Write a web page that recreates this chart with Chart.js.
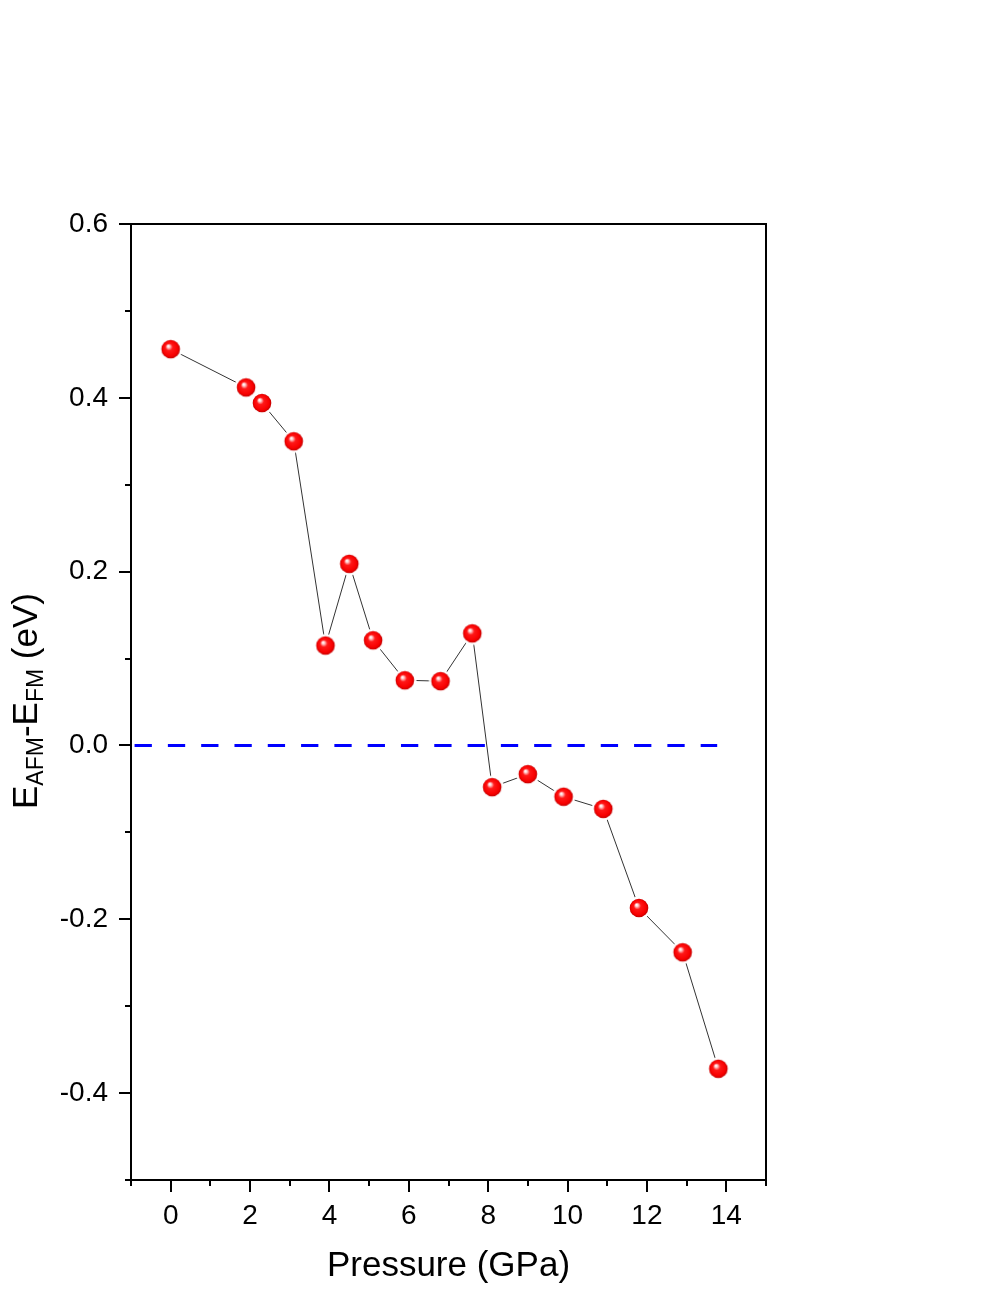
<!DOCTYPE html>
<html><head><meta charset="utf-8">
<script src="https://cdn.jsdelivr.net/npm/chart.js@4/dist/chart.umd.min.js"></script>
<style>html,body{margin:0;padding:0;background:#fff}#wrap{width:997px;height:1290px;position:relative}</style>
</head><body><div id="wrap"><canvas id="c" width="997" height="1290"></canvas></div>
<script>
const pressure = [0, 1.9, 2.3, 3.1, 3.9, 4.5, 5.1, 5.9, 6.8, 7.6, 8.1, 9.0, 9.9, 10.9, 11.8, 12.9, 13.8];
const energyDiff = [0.456, 0.412, 0.394, 0.350, 0.115, 0.209, 0.121, 0.075, 0.074, 0.129, -0.048, -0.033, -0.059, -0.073, -0.187, -0.238, -0.372];
const zeroLineX = [-0.91, 13.77];
const zeroLineY = [0, 0];
const xTicks = [0, 2, 4, 6, 8, 10, 12, 14];
const yTicks = [-0.4, -0.2, 0.0, 0.2, 0.4, 0.6];
const xMinorStep = 1;
const yMinorStep = 0.1;
const xTitle = 'Pressure (GPa)';
const yTitleParts = [['E', false], ['AFM', true], ['-', false], ['E', false], ['FM', true], [' (eV)', false]];

const FONT = '"Liberation Sans", Arial, sans-serif';

function makeSphere() {
  const s = 26, c = document.createElement('canvas');
  c.width = s; c.height = s;
  const g = c.getContext('2d');
  const cx = s / 2, cy = s / 2;
  g.fillStyle = '#ffffff';
  g.beginPath(); g.arc(cx, cy, 11.6, 0, Math.PI * 2); g.fill();
  const gr = g.createRadialGradient(cx - 2.5, cy - 3.2, 0.3, cx, cy, 9.4);
  gr.addColorStop(0, '#ffffff');
  gr.addColorStop(0.12, '#ffd0d0');
  gr.addColorStop(0.36, '#ff1818');
  gr.addColorStop(0.8, '#f80000');
  gr.addColorStop(1, '#c00000');
  g.fillStyle = gr;
  g.beginPath(); g.arc(cx, cy, 9.3, 0, Math.PI * 2); g.fill();
  return c;
}
const sphere = makeSphere();

const framePlugin = {
  id: 'frame',
  afterDraw(chart) {
    const { ctx, chartArea: a, scales: { x, y } } = chart;
    ctx.save();
    ctx.strokeStyle = '#000';
    ctx.lineWidth = 2;
    ctx.strokeRect(a.left, a.top, a.right - a.left, a.bottom - a.top);
    ctx.beginPath();
    const isMajor = (v, arr) => arr.some(t => Math.abs(t - v) < 1e-6);
    for (let v = x.min; v <= x.max + 1e-9; v += xMinorStep) {
      const px = Math.round(x.getPixelForValue(v));
      const len = isMajor(v, xTicks) ? 12 : 6;
      ctx.moveTo(px, a.bottom); ctx.lineTo(px, a.bottom + len);
    }
    for (let i = 0; ; i++) {
      const v = y.min + i * yMinorStep;
      if (v > y.max + 1e-9) break;
      const py = Math.round(y.getPixelForValue(v));
      const len = isMajor(v, yTicks) ? 12 : 6;
      ctx.moveTo(a.left, py); ctx.lineTo(a.left - len, py);
    }
    ctx.stroke();

    // x title
    ctx.fillStyle = '#000';
    ctx.font = '35px ' + FONT;
    ctx.textAlign = 'center';
    ctx.textBaseline = 'alphabetic';
    ctx.fillText(xTitle, (a.left + a.right) / 2, 1276);

    // y title with subscripts
    const big = 35, small = 23, sub = 6;
    let total = 0;
    const widths = yTitleParts.map(([t, s]) => {
      ctx.font = (s ? small : big) + 'px ' + FONT;
      const w = ctx.measureText(t).width; total += w; return w;
    });
    ctx.translate(37, 701);
    ctx.rotate(-Math.PI / 2);
    ctx.textAlign = 'left';
    let cx = -total / 2;
    yTitleParts.forEach(([t, s], i) => {
      ctx.font = (s ? small : big) + 'px ' + FONT;
      ctx.fillText(t, cx, s ? sub : 0);
      cx += widths[i];
    });
    ctx.restore();
  }
};

new Chart(document.getElementById('c'), {
  type: 'scatter',
  data: {
    datasets: [
      {
        label: 'E_AFM - E_FM',
        data: pressure.map((p, i) => ({ x: p, y: energyDiff[i] })),
        showLine: true,
        borderColor: '#333333',
        borderWidth: 1,
        pointStyle: sphere,
        pointRadius: 10,
        pointHoverRadius: 10,
        tension: 0
      },
      {
        label: 'zero',
        data: zeroLineX.map((v, i) => ({ x: v, y: zeroLineY[i] })),
        showLine: true,
        borderColor: '#0000ff',
        borderWidth: 3,
        borderDash: [17.3, 16],
        pointRadius: 0,
        pointHoverRadius: 0
      }
    ]
  },
  options: {
    responsive: false,
    animation: false,
    devicePixelRatio: 1,
    layout: { padding: { top: 224, right: 231, left: 0, bottom: 0 } },
    plugins: { legend: { display: false }, tooltip: { enabled: false } },
    scales: {
      x: {
        type: 'linear', min: -1, max: 15,
        afterBuildTicks: s => { s.ticks = xTicks.map(v => ({ value: v })); },
        afterFit: s => { s.height = 110; },
        grid: { display: false, drawTicks: false, tickLength: 0 },
        border: { display: false },
        ticks: { color: '#000', font: { family: FONT, size: 28 }, padding: 19, maxRotation: 0, autoSkip: false, callback: v => String(v) }
      },
      y: {
        type: 'linear', min: -0.5, max: 0.6,
        afterBuildTicks: s => { s.ticks = yTicks.map(v => ({ value: v })); },
        afterFit: s => { s.width = 131; },
        grid: { display: false, drawTicks: false, tickLength: 0 },
        border: { display: false },
        ticks: { color: '#000', font: { family: FONT, size: 28 }, padding: 23, autoSkip: false, callback: v => Number(v).toFixed(1) }
      }
    }
  },
  plugins: [framePlugin]
});
</script></body></html>
